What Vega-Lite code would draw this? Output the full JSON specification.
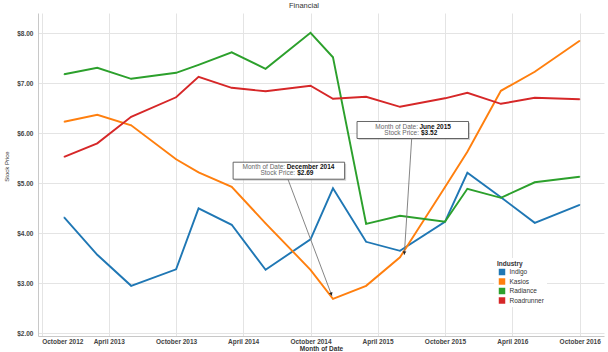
{
  "$schema": "https://vega.github.io/schema/vega-lite/v6.json",
  "width": 566,
  "height": 323,
  "autosize": "none",
  "padding": {"left": 38, "top": 13, "right": 4, "bottom": 16},
  "background": "white",
  "title": {"text": "Financial", "fontSize": 7.5, "fontWeight": "normal", "color": "#333333", "font": "Liberation Sans", "anchor": "middle", "dx": -17, "offset": 0, "baseline": "middle"},
  "config": {
    "font": "Liberation Sans",
    "view": {"stroke": null},
    "axis": {"labelFont": "Liberation Sans", "titleFont": "Liberation Sans", "labelFontSize": 6.5, "titleFontSize": 6.5, "labelColor": "#444444", "titleColor": "#333333", "gridColor": "#e4e4e4", "gridWidth": 1, "domainColor": "#c8c8c8", "ticks": false}
  },
  "datasets": {
    "prices": [
      {"Industry": "Indigo", "Date": "2012-12-01", "Price": 4.32},
      {"Industry": "Indigo", "Date": "2013-03-01", "Price": 3.57},
      {"Industry": "Indigo", "Date": "2013-06-01", "Price": 2.95},
      {"Industry": "Indigo", "Date": "2013-10-01", "Price": 3.28},
      {"Industry": "Indigo", "Date": "2013-12-01", "Price": 4.50},
      {"Industry": "Indigo", "Date": "2014-03-01", "Price": 4.17},
      {"Industry": "Indigo", "Date": "2014-06-01", "Price": 3.27},
      {"Industry": "Indigo", "Date": "2014-10-01", "Price": 3.88},
      {"Industry": "Indigo", "Date": "2014-12-01", "Price": 4.90},
      {"Industry": "Indigo", "Date": "2015-03-01", "Price": 3.83},
      {"Industry": "Indigo", "Date": "2015-06-01", "Price": 3.65},
      {"Industry": "Indigo", "Date": "2015-10-01", "Price": 4.23},
      {"Industry": "Indigo", "Date": "2015-12-01", "Price": 5.21},
      {"Industry": "Indigo", "Date": "2016-03-01", "Price": 4.72},
      {"Industry": "Indigo", "Date": "2016-06-01", "Price": 4.21},
      {"Industry": "Indigo", "Date": "2016-10-01", "Price": 4.57},
      {"Industry": "Kasios", "Date": "2012-12-01", "Price": 6.23},
      {"Industry": "Kasios", "Date": "2013-03-01", "Price": 6.37},
      {"Industry": "Kasios", "Date": "2013-06-01", "Price": 6.16},
      {"Industry": "Kasios", "Date": "2013-10-01", "Price": 5.48},
      {"Industry": "Kasios", "Date": "2013-12-01", "Price": 5.22},
      {"Industry": "Kasios", "Date": "2014-03-01", "Price": 4.93},
      {"Industry": "Kasios", "Date": "2014-06-01", "Price": 4.20},
      {"Industry": "Kasios", "Date": "2014-10-01", "Price": 3.27},
      {"Industry": "Kasios", "Date": "2014-12-01", "Price": 2.69},
      {"Industry": "Kasios", "Date": "2015-03-01", "Price": 2.95},
      {"Industry": "Kasios", "Date": "2015-06-01", "Price": 3.52},
      {"Industry": "Kasios", "Date": "2015-10-01", "Price": 4.92},
      {"Industry": "Kasios", "Date": "2015-12-01", "Price": 5.63},
      {"Industry": "Kasios", "Date": "2016-03-01", "Price": 6.85},
      {"Industry": "Kasios", "Date": "2016-06-01", "Price": 7.23},
      {"Industry": "Kasios", "Date": "2016-10-01", "Price": 7.85},
      {"Industry": "Radiance", "Date": "2012-12-01", "Price": 7.18},
      {"Industry": "Radiance", "Date": "2013-03-01", "Price": 7.31},
      {"Industry": "Radiance", "Date": "2013-06-01", "Price": 7.09},
      {"Industry": "Radiance", "Date": "2013-10-01", "Price": 7.21},
      {"Industry": "Radiance", "Date": "2013-12-01", "Price": 7.37},
      {"Industry": "Radiance", "Date": "2014-03-01", "Price": 7.62},
      {"Industry": "Radiance", "Date": "2014-06-01", "Price": 7.29},
      {"Industry": "Radiance", "Date": "2014-10-01", "Price": 8.01},
      {"Industry": "Radiance", "Date": "2014-12-01", "Price": 7.52},
      {"Industry": "Radiance", "Date": "2015-03-01", "Price": 4.19},
      {"Industry": "Radiance", "Date": "2015-06-01", "Price": 4.35},
      {"Industry": "Radiance", "Date": "2015-10-01", "Price": 4.23},
      {"Industry": "Radiance", "Date": "2015-12-01", "Price": 4.89},
      {"Industry": "Radiance", "Date": "2016-03-01", "Price": 4.71},
      {"Industry": "Radiance", "Date": "2016-06-01", "Price": 5.02},
      {"Industry": "Radiance", "Date": "2016-10-01", "Price": 5.13},
      {"Industry": "Roadrunner", "Date": "2012-12-01", "Price": 5.53},
      {"Industry": "Roadrunner", "Date": "2013-03-01", "Price": 5.80},
      {"Industry": "Roadrunner", "Date": "2013-06-01", "Price": 6.33},
      {"Industry": "Roadrunner", "Date": "2013-10-01", "Price": 6.72},
      {"Industry": "Roadrunner", "Date": "2013-12-01", "Price": 7.13},
      {"Industry": "Roadrunner", "Date": "2014-03-01", "Price": 6.91},
      {"Industry": "Roadrunner", "Date": "2014-06-01", "Price": 6.84},
      {"Industry": "Roadrunner", "Date": "2014-10-01", "Price": 6.95},
      {"Industry": "Roadrunner", "Date": "2014-12-01", "Price": 6.69},
      {"Industry": "Roadrunner", "Date": "2015-03-01", "Price": 6.73},
      {"Industry": "Roadrunner", "Date": "2015-06-01", "Price": 6.53},
      {"Industry": "Roadrunner", "Date": "2015-10-01", "Price": 6.70},
      {"Industry": "Roadrunner", "Date": "2015-12-01", "Price": 6.81},
      {"Industry": "Roadrunner", "Date": "2016-03-01", "Price": 6.59},
      {"Industry": "Roadrunner", "Date": "2016-06-01", "Price": 6.71},
      {"Industry": "Roadrunner", "Date": "2016-10-01", "Price": 6.68}
    ],
    "notes": [
      {"Note": 1, "Industry": "Kasios", "Date": "2014-12-01", "Price": 2.69},
      {"Note": 2, "Industry": "Kasios", "Date": "2015-06-01", "Price": 3.52}
    ]
  },
  "layer": [
    {
      "data": {"name": "prices"},
      "mark": {"type": "point", "shape": "square", "filled": true, "size": 1, "opacity": 1},
      "encoding": {
        "x": {
          "field": "Date", "type": "temporal",
          "scale": {"type": "utc", "domain": [{"year": 2012, "month": 9, "date": 21, "utc": true}, {"year": 2016, "month": 12, "date": 6, "utc": true}], "nice": false},
          "axis": {
            "values": [
              {"year": 2012, "month": 10, "date": 1, "utc": true},
              {"year": 2013, "month": 4, "date": 1, "utc": true},
              {"year": 2013, "month": 10, "date": 1, "utc": true},
              {"year": 2014, "month": 4, "date": 1, "utc": true},
              {"year": 2014, "month": 10, "date": 1, "utc": true},
              {"year": 2015, "month": 4, "date": 1, "utc": true},
              {"year": 2015, "month": 10, "date": 1, "utc": true},
              {"year": 2016, "month": 4, "date": 1, "utc": true},
              {"year": 2016, "month": 10, "date": 1, "utc": true}
            ],
            "labelExpr": "utcFormat(datum.value, '%B %Y')",
            "labelFontWeight": "bold",
            "labelPadding": 2,
            "labelFlush": 10,
            "title": "Month of Date",
            "titleFontWeight": "bold",
            "titlePadding": 1
          }
        },
        "y": {
          "field": "Price", "type": "quantitative",
          "scale": {"domain": [1.946, 8.406], "nice": false, "zero": false},
          "axis": {
            "values": [2, 2.5, 3, 3.5, 4, 4.5, 5, 5.5, 6, 6.5, 7, 7.5, 8],
            "format": "$.2f",
            "labelFontWeight": "bold",
            "labelPadding": 5,
            "title": "Stock Price",
            "titleFontWeight": "normal",
            "titleFontSize": 6,
            "titleX": -32,
            "titleY": 153,
            "titleBaseline": "middle"
          }
        },
        "color": {
          "field": "Industry", "type": "nominal",
          "scale": {"domain": ["Indigo", "Kasios", "Radiance", "Roadrunner"], "range": ["#1f77b4", "#ff7f0e", "#2ca02c", "#d62728"]},
          "legend": {
            "title": "Industry", "orient": "none", "legendX": 456, "legendY": 245,
            "fillColor": "white", "padding": 3,
            "symbolType": "square", "symbolSize": 42, "symbolStrokeWidth": 0, "symbolOffset": 1.5,
            "labelOffset": 4, "rowPadding": 2.5, "titlePadding": 1,
            "titleFontSize": 6.5, "titleFontWeight": "bold", "labelFontSize": 6.5,
            "titleColor": "#333333", "labelColor": "#333333", "titleFont": "Liberation Sans", "labelFont": "Liberation Sans"
          }
        }
      }
    },
    {
      "data": {"name": "prices"},
      "mark": {"type": "line", "strokeWidth": 1.9},
      "encoding": {
        "x": {"field": "Date", "type": "temporal"},
        "y": {"field": "Price", "type": "quantitative"},
        "color": {"field": "Industry", "type": "nominal", "legend": null}
      }
    },
    {
      "data": {"name": "notes"},
      "transform": [{"filter": "datum.Note == 1"}],
      "layer": [
        {"mark": {"type": "point", "shape": "M-1,-0.1525L1,-0.1525L1,0.1525L-1,0.1525Z", "size": 12432, "filled": true, "fill": "#aaaaaa", "opacity": 0.5, "strokeWidth": 0, "xOffset": -42.6, "yOffset": -126.6}},
        {"mark": {"type": "point", "shape": "M-1,-0.1525L1,-0.1525L1,0.1525L-1,0.1525Z", "size": 12432, "filled": true, "fill": "white", "opacity": 1, "stroke": "#555555", "strokeWidth": 0.9, "xOffset": -44.1, "yOffset": -128.1}},
        {"mark": {"type": "rule", "color": "#777777", "strokeWidth": 0.9, "xOffset": -1, "yOffset": -2.8, "x2Offset": -45, "y2Offset": -119.5},
         "encoding": {"x2": {"field": "Date"}, "y2": {"field": "Price"}}},
        {"mark": {"type": "point", "shape": "triangle-down", "size": 14, "filled": true, "fill": "#222222", "opacity": 1, "strokeWidth": 0, "angle": 339.3, "xOffset": -1.7, "yOffset": -4.7}},
        {"mark": {"type": "text", "text": "Month of Date:", "align": "right", "baseline": "middle", "dx": -47.8, "dy": -132.3, "fontSize": 6.5, "color": "#666666"}},
        {"mark": {"type": "text", "align": "left", "baseline": "middle", "dx": -46.3, "dy": -132.3, "fontSize": 6.5, "fontWeight": "bold", "color": "#111111"},
         "encoding": {"text": {"field": "Date", "type": "temporal", "timeUnit": "utcyearmonth", "format": "%B %Y"}}},
        {"mark": {"type": "text", "text": "Stock Price:", "align": "right", "baseline": "middle", "dx": -37.8, "dy": -125.6, "fontSize": 6.5, "color": "#666666"}},
        {"mark": {"type": "text", "align": "left", "baseline": "middle", "dx": -35.8, "dy": -125.6, "fontSize": 6.5, "fontWeight": "bold", "color": "#111111"},
         "encoding": {"text": {"field": "Price", "type": "quantitative", "format": "$.2f"}}}
      ],
      "encoding": {
        "x": {"field": "Date", "type": "temporal"},
        "y": {"field": "Price", "type": "quantitative"}
      }
    },
    {
      "data": {"name": "notes"},
      "transform": [{"filter": "datum.Note == 2"}],
      "layer": [
        {"mark": {"type": "point", "shape": "M-1,-0.1525L1,-0.1525L1,0.1525L-1,0.1525Z", "size": 12432, "filled": true, "fill": "#aaaaaa", "opacity": 0.5, "strokeWidth": 0, "xOffset": 14.3, "yOffset": -125.8}},
        {"mark": {"type": "point", "shape": "M-1,-0.1525L1,-0.1525L1,0.1525L-1,0.1525Z", "size": 12432, "filled": true, "fill": "white", "opacity": 1, "stroke": "#555555", "strokeWidth": 0.9, "xOffset": 12.8, "yOffset": -127.3}},
        {"mark": {"type": "rule", "color": "#777777", "strokeWidth": 0.9, "xOffset": 4.3, "yOffset": -2.3, "x2Offset": 11.7, "y2Offset": -119},
         "encoding": {"x2": {"field": "Date"}, "y2": {"field": "Price"}}},
        {"mark": {"type": "point", "shape": "triangle-down", "size": 14, "filled": true, "fill": "#222222", "opacity": 1, "strokeWidth": 0, "angle": 3.6, "xOffset": 4.4, "yOffset": -4.3}},
        {"mark": {"type": "text", "text": "Month of Date:", "align": "right", "baseline": "middle", "dx": 18, "dy": -130.6, "fontSize": 6.5, "color": "#666666"}},
        {"mark": {"type": "text", "align": "left", "baseline": "middle", "dx": 19.5, "dy": -130.6, "fontSize": 6.5, "fontWeight": "bold", "color": "#111111"},
         "encoding": {"text": {"field": "Date", "type": "temporal", "timeUnit": "utcyearmonth", "format": "%B %Y"}}},
        {"mark": {"type": "text", "text": "Stock Price:", "align": "right", "baseline": "middle", "dx": 19, "dy": -124, "fontSize": 6.5, "color": "#666666"}},
        {"mark": {"type": "text", "align": "left", "baseline": "middle", "dx": 21, "dy": -124, "fontSize": 6.5, "fontWeight": "bold", "color": "#111111"},
         "encoding": {"text": {"field": "Price", "type": "quantitative", "format": "$.2f"}}}
      ],
      "encoding": {
        "x": {"field": "Date", "type": "temporal"},
        "y": {"field": "Price", "type": "quantitative"}
      }
    }
  ]
}
